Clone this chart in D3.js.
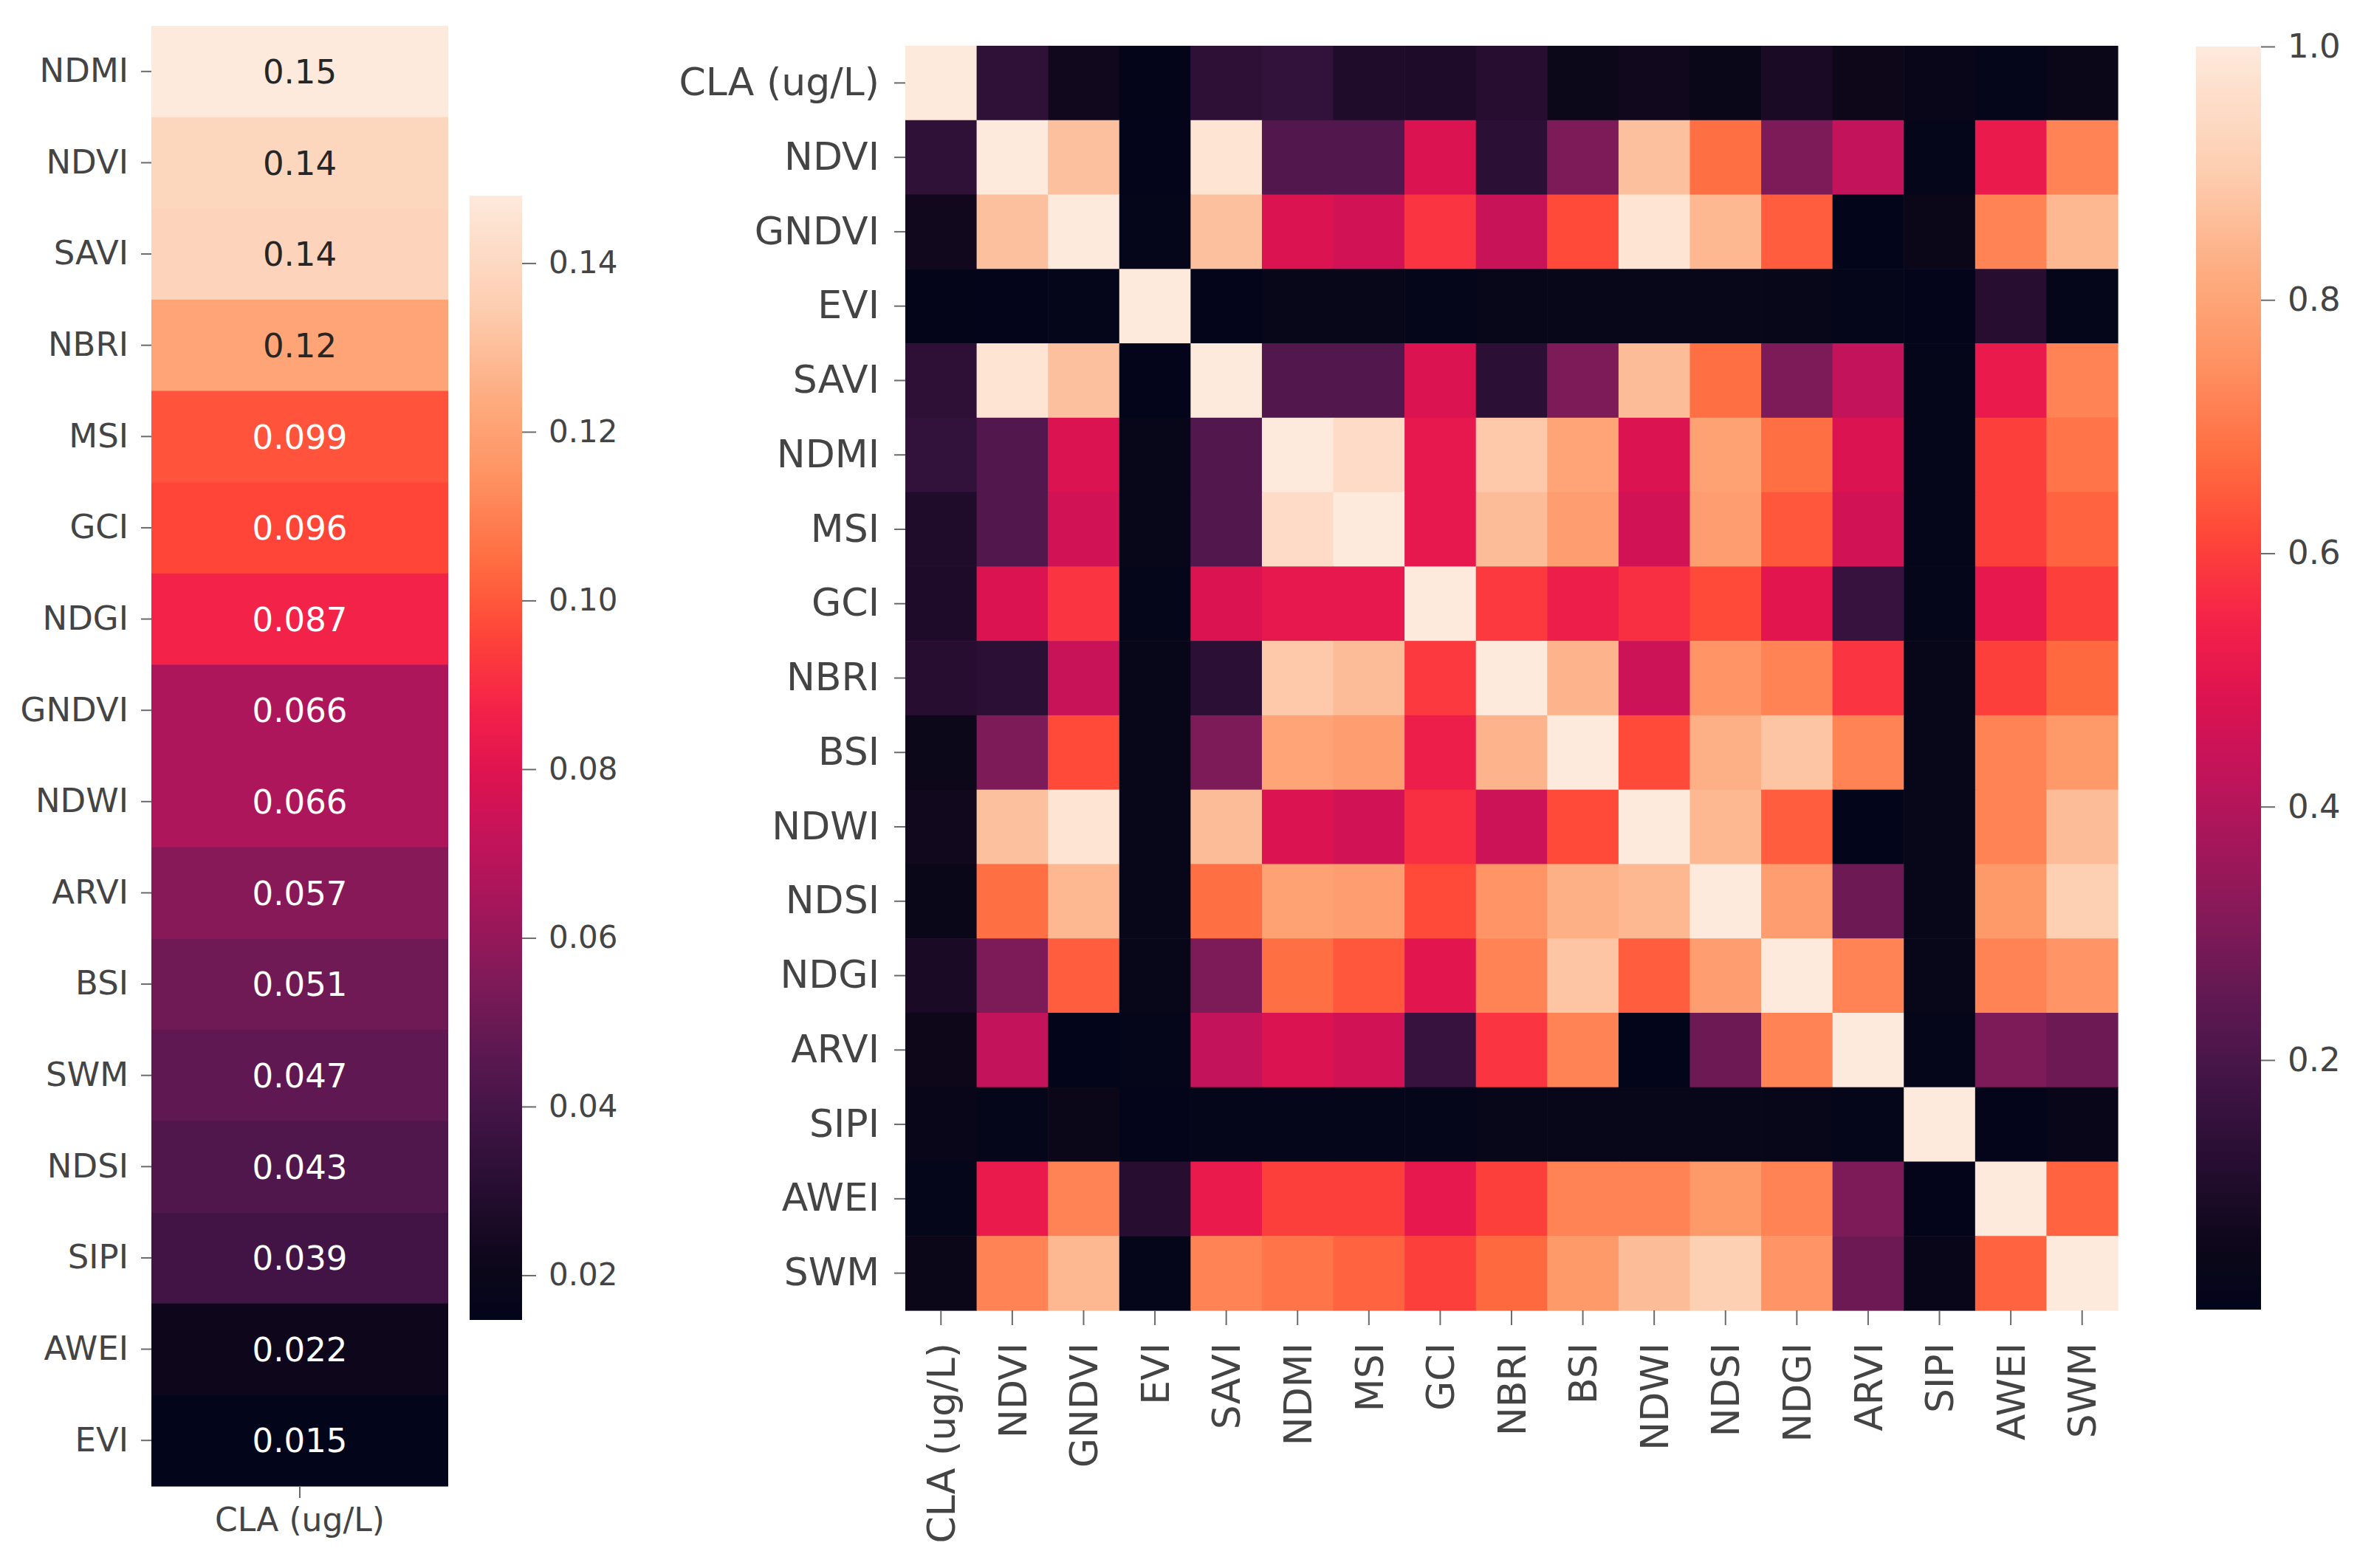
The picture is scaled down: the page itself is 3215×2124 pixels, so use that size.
<!DOCTYPE html>
<html>
<head>
<meta charset="utf-8">
<script src="https://cdn.jsdelivr.net/npm/d3@7"></script>
<style>
body { margin: 0; background: #fff; }
text { font-family: "DejaVu Sans", sans-serif; }
</style>
</head>
<body>
<div id="chart"></div>
<script>
var width = 3215,
    height = 2124;

var target = "CLA (ug/L)";

// left panel: |r| of each index with CLA, sorted
var leftNames = ["NDMI", "NDVI", "SAVI", "NBRI", "MSI", "GCI", "NDGI", "GNDVI",
    "NDWI", "ARVI", "BSI", "SWM", "NDSI", "SIPI", "AWEI", "EVI"];
var leftValues = [0.148, 0.139, 0.138, 0.121, 0.099, 0.096, 0.087, 0.066,
    0.066, 0.057, 0.051, 0.047, 0.043, 0.039, 0.022, 0.0147];
var leftTicks = [0.02, 0.04, 0.06, 0.08, 0.10, 0.12, 0.14];

// right panel: correlation matrix
var names = ["CLA (ug/L)", "NDVI", "GNDVI", "EVI", "SAVI", "NDMI", "MSI", "GCI", "NBRI",
    "BSI", "NDWI", "NDSI", "NDGI", "ARVI", "SIPI", "AWEI", "SWM"];
var corr = [
    [1.00, 0.139, 0.066, 0.0147, 0.138, 0.148, 0.099, 0.096, 0.121, 0.051, 0.066, 0.043, 0.087, 0.057, 0.039, 0.022, 0.047], // CLA
    [0.139, 1.00, 0.87, 0.01, 0.98, 0.22, 0.22, 0.48, 0.13, 0.30, 0.87, 0.68, 0.30, 0.43, 0.02, 0.52, 0.72], // NDVI
    [0.066, 0.87, 1.00, 0.02, 0.87, 0.48, 0.46, 0.58, 0.44, 0.62, 0.98, 0.85, 0.65, 0.004, 0.05, 0.72, 0.85], // GNDVI
    [0.0147, 0.01, 0.02, 1.00, 0.01, 0.03, 0.03, 0.02, 0.03, 0.03, 0.03, 0.03, 0.03, 0.02, 0.01, 0.12, 0.02], // EVI
    [0.138, 0.98, 0.87, 0.01, 1.00, 0.22, 0.22, 0.48, 0.13, 0.30, 0.86, 0.68, 0.30, 0.43, 0.02, 0.52, 0.72], // SAVI
    [0.148, 0.22, 0.48, 0.03, 0.22, 1.00, 0.95, 0.51, 0.89, 0.80, 0.48, 0.79, 0.68, 0.48, 0.02, 0.60, 0.69], // NDMI
    [0.099, 0.22, 0.46, 0.03, 0.22, 0.95, 1.00, 0.51, 0.86, 0.78, 0.46, 0.78, 0.64, 0.46, 0.02, 0.60, 0.66], // MSI
    [0.096, 0.48, 0.58, 0.02, 0.48, 0.51, 0.51, 1.00, 0.59, 0.53, 0.57, 0.62, 0.50, 0.16, 0.02, 0.51, 0.60], // GCI
    [0.121, 0.13, 0.44, 0.03, 0.13, 0.89, 0.86, 0.59, 1.00, 0.84, 0.45, 0.76, 0.72, 0.58, 0.03, 0.60, 0.67], // NBRI
    [0.051, 0.30, 0.62, 0.03, 0.30, 0.80, 0.78, 0.53, 0.84, 1.00, 0.62, 0.83, 0.88, 0.72, 0.03, 0.72, 0.77], // BSI
    [0.066, 0.87, 0.98, 0.03, 0.86, 0.48, 0.46, 0.57, 0.45, 0.62, 1.00, 0.85, 0.65, 0.003, 0.03, 0.72, 0.86], // NDWI
    [0.043, 0.68, 0.85, 0.03, 0.68, 0.79, 0.78, 0.62, 0.76, 0.83, 0.85, 1.00, 0.78, 0.27, 0.03, 0.77, 0.91], // NDSI
    [0.087, 0.30, 0.65, 0.03, 0.30, 0.68, 0.64, 0.50, 0.72, 0.88, 0.65, 0.78, 1.00, 0.72, 0.03, 0.72, 0.76], // NDGI
    [0.057, 0.43, 0.004, 0.02, 0.43, 0.48, 0.46, 0.16, 0.58, 0.72, 0.003, 0.27, 0.72, 1.00, 0.02, 0.30, 0.27], // ARVI
    [0.039, 0.02, 0.05, 0.01, 0.02, 0.02, 0.02, 0.02, 0.03, 0.03, 0.03, 0.03, 0.03, 0.02, 1.00, 0.01, 0.04], // SIPI
    [0.022, 0.52, 0.72, 0.12, 0.52, 0.60, 0.60, 0.51, 0.60, 0.72, 0.72, 0.77, 0.72, 0.30, 0.01, 1.00, 0.66], // AWEI
    [0.047, 0.72, 0.85, 0.02, 0.72, 0.69, 0.66, 0.60, 0.67, 0.77, 0.86, 0.91, 0.76, 0.27, 0.04, 0.66, 1.00]  // SWM
];
var rightTicks = [0.2, 0.4, 0.6, 0.8, 1.0];

// rocket-like colormap, sampled off the reference colorbar
var rocketStops = [0, 0.05, 0.10, 0.17, 0.23, 0.30, 0.36, 0.43, 0.49, 0.55, 0.61, 0.67, 0.75, 0.82, 0.90, 1];
var rocketColors = ["#03051a", "#0c0719", "#200c2b", "#3c1342", "#581850", "#7e1a58", "#a0175a",
    "#c4135a", "#e0134f", "#f52448", "#ff4538", "#ff6a40", "#ff9262", "#fdac80", "#fdcdb0", "#fdeadc"];

var rocket = d3.scaleLinear()
    .domain(rocketStops)
    .range(rocketColors)
    .interpolate(d3.interpolateRgb)
    .clamp(true);

var textColor = "#444444",
    tickColor = "#6a6a6a";

var svg = d3.select("#chart")
    .append("svg")
    .attr("width", width)
    .attr("height", height);

svg.append("rect")
    .attr("width", width)
    .attr("height", height)
    .attr("fill", "#fff");

var defs = svg.append("defs");

function luminance(c) {
    var rgb = d3.rgb(c);
    var f = function (v) {
        v = v / 255;
        return v <= 0.03928 ? v / 12.92 : Math.pow((v + 0.055) / 1.055, 2.4);
    };
    return 0.2126 * f(rgb.r) + 0.7152 * f(rgb.g) + 0.0722 * f(rgb.b);
}

function styleAxis(sel, size) {
    sel.select(".domain").remove();
    sel.selectAll(".tick line").attr("stroke", tickColor).attr("stroke-width", 2);
    sel.selectAll(".tick text")
        .attr("fill", textColor)
        .style("font-size", size + "px")
        .style("font-family", "DejaVu Sans");
}

function colorbar(id, x0, x1, y0, y1, domain, ticks, fmt, fontSize) {
    var grad = defs.append("linearGradient")
        .attr("id", id)
        .attr("x1", 0).attr("y1", 1)
        .attr("x2", 0).attr("y2", 0);
    d3.range(0, 1.0001, 0.02).forEach(function (t) {
        grad.append("stop")
            .attr("offset", t)
            .attr("stop-color", rocket(t));
    });
    svg.append("rect")
        .attr("x", x0)
        .attr("y", y0)
        .attr("width", x1 - x0)
        .attr("height", y1 - y0)
        .attr("fill", "url(#" + id + ")");

    var s = d3.scaleLinear().domain(domain).range([y1, y0]);
    var ax = svg.append("g")
        .attr("transform", "translate(" + x1 + ",0)")
        .call(d3.axisRight(s).tickValues(ticks).tickFormat(d3.format(fmt)).tickSize(19).tickPadding(17));
    styleAxis(ax, fontSize);
}

// ---------- left heatmap ----------
var xL = d3.scaleBand().domain([target]).range([205, 607]);
var yL = d3.scaleBand().domain(leftNames).range([35, 2013]);
var leftExtent = d3.extent(leftValues);
var tL = d3.scaleLinear().domain(leftExtent).range([0, 1]);

var left = svg.append("g").attr("id", "left");

left.selectAll("rect.cell")
    .data(leftNames)
    .enter()
    .append("rect")
    .attr("class", "cell")
    .attr("x", xL(target))
    .attr("y", function (d) { return yL(d); })
    .attr("width", xL.bandwidth())
    .attr("height", yL.bandwidth() + 0.6)
    .attr("fill", function (d, i) { return rocket(tL(leftValues[i])); });

left.selectAll("text.annot")
    .data(leftNames)
    .enter()
    .append("text")
    .attr("class", "annot")
    .attr("x", xL(target) + xL.bandwidth() / 2)
    .attr("y", function (d) { return yL(d) + yL.bandwidth() / 2; })
    .attr("dy", "0.36em")
    .attr("text-anchor", "middle")
    .style("font-size", "45px")
    .attr("fill", function (d, i) {
        return luminance(rocket(tL(leftValues[i]))) > 0.408 ? "#262626" : "#ffffff";
    })
    .text(function (d, i) { return d3.format(".2g")(leftValues[i]); });

var lAxisY = left.append("g")
    .attr("transform", "translate(205,0)")
    .call(d3.axisLeft(yL).tickSize(14).tickPadding(17));
styleAxis(lAxisY, 45);

var lAxisX = left.append("g")
    .attr("transform", "translate(0,2013)")
    .call(d3.axisBottom(xL).tickSize(16).tickPadding(14));
styleAxis(lAxisX, 44);

colorbar("cbL", 636, 707, 265, 1788, leftExtent, leftTicks, ".2f", 42);

// ---------- right heatmap ----------
var xR = d3.scaleBand().domain(names).range([1226, 2868]);
var yR = d3.scaleBand().domain(names).range([62, 1775]);
var flat = d3.merge(corr);
var rightExtent = d3.extent(flat);
var tR = d3.scaleLinear().domain(rightExtent).range([0, 1]);

var cells = [];
corr.forEach(function (row, i) {
    row.forEach(function (v, j) {
        cells.push({ row: names[i], col: names[j], value: v });
    });
});

var right = svg.append("g").attr("id", "right");

right.selectAll("rect.cell")
    .data(cells)
    .enter()
    .append("rect")
    .attr("class", "cell")
    .attr("x", function (d) { return xR(d.col); })
    .attr("y", function (d) { return yR(d.row); })
    .attr("width", xR.bandwidth() + 0.6)
    .attr("height", yR.bandwidth() + 0.6)
    .attr("fill", function (d) { return rocket(tR(d.value)); });

var rAxisY = right.append("g")
    .attr("transform", "translate(1226,0)")
    .call(d3.axisLeft(yR).tickSize(15).tickPadding(20));
styleAxis(rAxisY, 52);

var rAxisX = right.append("g")
    .attr("transform", "translate(0,1775)")
    .call(d3.axisBottom(xR).tickSize(20).tickPadding(24));
styleAxis(rAxisX, 52);
rAxisX.selectAll(".tick text")
    .attr("transform", "rotate(-90)")
    .attr("x", -44)
    .attr("y", 0)
    .attr("dy", "0.36em")
    .style("text-anchor", "end");

colorbar("cbR", 2974, 3062, 63, 1774, rightExtent, rightTicks, ".1f", 45);
</script>
</body>
</html>
